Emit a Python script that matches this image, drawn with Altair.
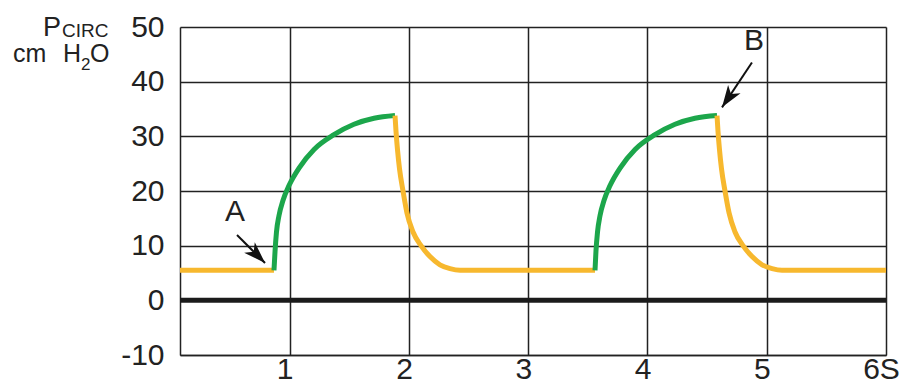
import altair as alt
import pandas as pd

# ---------------- data ----------------
# time (s) and circuit pressure (cm H2O) for each drawn segment
seg_names = ["e1", "i1", "e2", "i2", "e3"]
seg_phase = ["exp", "insp", "exp", "insp", "exp"]
seg_t = [
    [0.08, 0.868],
    [0.868, 0.877, 0.889, 0.910, 0.944, 0.994, 1.078, 1.204, 1.371, 1.539, 1.707, 1.883],
    [1.883, 1.891, 1.904, 1.921, 1.950, 1.983, 2.034, 2.101, 2.176, 2.260, 2.344, 2.428, 3.560],
    [3.560, 3.568, 3.581, 3.602, 3.636, 3.686, 3.770, 3.896, 4.063, 4.231, 4.398, 4.583],
    [4.583, 4.591, 4.604, 4.621, 4.650, 4.684, 4.734, 4.801, 4.877, 4.961, 5.045, 5.128, 6.0],
]
seg_p = [
    [5.5, 5.5],
    [5.5, 9.0, 12.5, 15.5, 18.3, 21.0, 24.2, 27.6, 30.3, 32.2, 33.3, 33.8],
    [33.8, 31.0, 27.5, 24.0, 20.0, 16.0, 12.5, 10.0, 8.0, 6.5, 5.8, 5.5, 5.5],
    [5.5, 9.0, 12.5, 15.5, 18.3, 21.0, 24.2, 27.6, 30.3, 32.2, 33.3, 33.8],
    [33.8, 31.0, 27.5, 24.0, 20.0, 16.0, 12.5, 10.0, 8.0, 6.5, 5.8, 5.5, 5.5],
]

x_ticks = [1, 2, 3, 4, 5, 6]
y_ticks = [-10, 0, 10, 20, 30, 40, 50]

# annotation letters and arrows (data coordinates)
ann_text = ["A", "B"]
ann_x = [0.541, 4.893]
ann_y = [16.1, 47.4]
arrow_tail_x = [0.558, 4.876]
arrow_tail_y = [11.95, 43.5]
arrow_tip_x = [0.793, 4.625]
arrow_tip_y = [6.83, 35.3]
arrow_angle = [135, 214]

# y-axis title pieces
title_text = ["P", "CIRC", "cm", "H", "2", "O"]

# ---------------- styles ----------------
YELLOW = "#F7B82E"
GREEN = "#1CA64B"
INK = "#222222"
FONT = "Liberation Sans"
title_left = [-137, -118, -167, -117, -99, -90]
title_base = [9, 10, 35, 35, 43, 35]
title_size = [27, 19, 25, 25, 17, 25]

rows = []
for name, ph, ts, ps in zip(seg_names, seg_phase, seg_t, seg_p):
    for i, (t, p) in enumerate(zip(ts, ps)):
        rows.append({"t": t, "p": p, "seg": name, "phase": ph, "i": i})
df = pd.DataFrame(rows)

xscale = alt.Scale(domain=[0.08, 6], nice=False, zero=False)
yscale = alt.Scale(domain=[-10, 50], nice=False, zero=False)

xaxis = alt.Axis(
    values=x_ticks, title=None, grid=True, gridColor=INK, gridWidth=1.5,
    domainColor=INK, domainWidth=1.5, ticks=False, labelFontSize=30,
    labelFont=FONT, labelColor=INK, labelPadding=23, labelOffset=-5,
    labelBaseline="alphabetic",
    labelExpr="datum.value == 6 ? '6S' : '' + datum.value", labelFlush=False,
)
yaxis = alt.Axis(
    values=y_ticks, title=None, grid=True, gridColor=INK, gridWidth=1.5,
    domainColor=INK, domainWidth=1.5, ticks=False, labelFontSize=30,
    labelFont=FONT, labelColor=INK, labelPadding=16, labelFlush=False,
    labelBaseline="middle", labelExpr="'' + datum.value",
)

lines = alt.Chart(df).mark_line(strokeWidth=5, interpolate="monotone").encode(
    x=alt.X("t:Q", scale=xscale, axis=xaxis),
    y=alt.Y("p:Q", scale=yscale, axis=yaxis),
    color=alt.Color("phase:N", scale=alt.Scale(domain=["exp", "insp"], range=[YELLOW, GREEN]), legend=None),
    detail="seg:N",
    order="i:Q",
)

zero = alt.Chart(pd.DataFrame({"x": [0.08], "x2": [6], "y": [0]})).mark_rule(
    strokeWidth=5, color="#1b1b1b"
).encode(x="x:Q", x2="x2:Q", y="y:Q")

arr_df = pd.DataFrame({
    "tx": arrow_tail_x, "ty": arrow_tail_y,
    "hx": arrow_tip_x, "hy": arrow_tip_y, "ang": arrow_angle,
})
shafts = alt.Chart(arr_df).mark_rule(strokeWidth=2, color="#111111").encode(
    x="tx:Q", y="ty:Q", x2="hx:Q", y2="hy:Q"
)
heads = alt.Chart(arr_df).mark_point(
    shape="M0,0 L0.75,2.2 L0,1.6 L-0.75,2.2 Z", filled=True, size=400,
    color="#111111", opacity=1, strokeWidth=0,
).encode(x="hx:Q", y="hy:Q", angle=alt.Angle("ang:Q", scale=None))

letters = alt.Chart(pd.DataFrame({"txt": ann_text, "x": ann_x, "y": ann_y})).mark_text(
    fontSize=30, font=FONT, color=INK, baseline="middle", align="center"
).encode(x="x:Q", y="y:Q", text="txt:N")

title_layers = []
for txt, lx, by, fs in zip(title_text, title_left, title_base, title_size):
    title_layers.append(
        alt.Chart(pd.DataFrame({"label": [txt]})).mark_text(
            fontSize=fs, font=FONT, color=INK, align="left", baseline="alphabetic"
        ).encode(text="label:N", x=alt.value(lx), y=alt.value(by))
    )

chart = alt.layer(zero, lines, shafts, heads, letters, *title_layers).properties(
    width=706, height=328,
    padding={"left": 172, "top": 19, "right": 15, "bottom": 24},
    autosize="none",
).configure_view(strokeWidth=0).configure(background="white")

chart.save("out.html", embed_options={"renderer": "svg", "actions": False})
